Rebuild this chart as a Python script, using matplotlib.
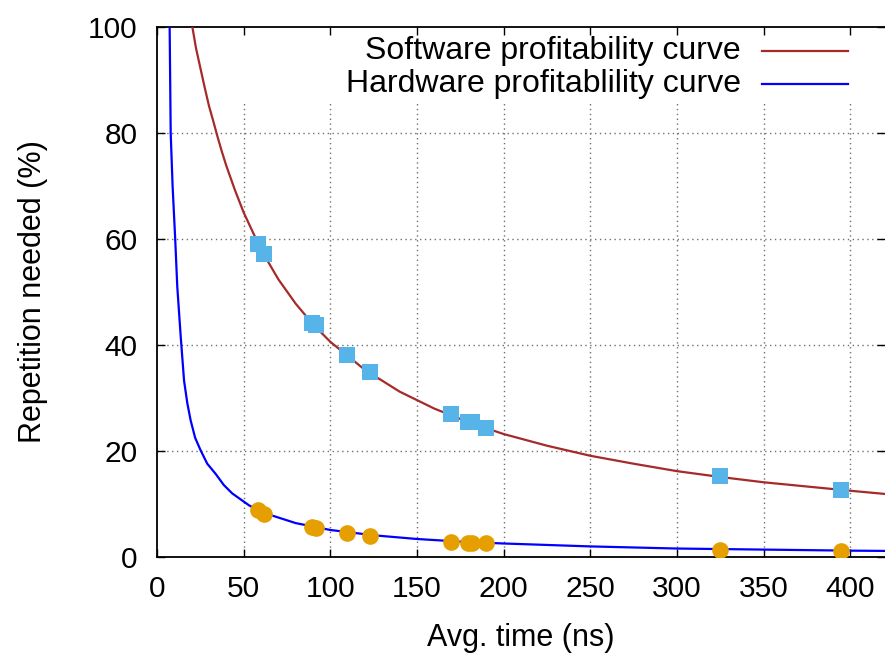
import matplotlib
matplotlib.use("Agg")
import matplotlib.pyplot as plt
from matplotlib.lines import Line2D

plt.rcParams['font.family'] = ['Liberation Sans', 'DejaVu Sans']

# profitability curves
sw_x = [20.4, 22.5, 25, 27.5, 30, 32.5, 35, 37.5, 40, 45, 50, 55, 60, 70, 80, 90,
        100, 120, 140, 160, 180, 200, 225, 250, 275, 300, 325, 350, 375, 400, 420]
sw_y = [100, 96.0, 92.3, 88.6, 85.1, 82.2, 79.2, 76.4, 73.8, 69.2, 65.0, 61.5,
        58.0, 52.4, 47.8, 43.9, 40.6, 35.3, 31.2, 28.0, 25.4, 23.2, 21.0, 19.1,
        17.6, 16.2, 15.1, 14.1, 13.3, 12.5, 11.9]

hw_x = [7.3, 7.9, 9.0, 10.5, 11.7, 13.7, 15.6, 17.5, 19.4, 22.0, 25.2, 29.0,
        33.8, 38.5, 43.4, 53.1, 60, 80, 100, 125, 150, 175, 200, 250, 300, 350,
        400, 420]
hw_y = [100, 80, 70, 60, 51, 41.5, 33.3, 29.0, 25.8, 22.5, 20.1, 17.6,
        15.7, 13.6, 12.0, 9.75, 8.5, 6.4, 5.1, 4.1, 3.4, 2.9, 2.55, 2.0, 1.6, 1.4,
        1.2, 1.15]

# measured points
pt_x = [58.4, 61.9, 89.6, 91.9, 109.7, 122.6, 169.7, 179.5, 181.5, 190.0, 324.9, 394.6]
sw_pts = [59.1, 57.2, 44.2, 43.7, 38.2, 35.0, 26.9, 25.5, 25.4, 24.4, 15.2, 12.7]
hw_pts = [8.8, 8.2, 5.7, 5.4, 4.5, 4.0, 2.8, 2.7, 2.7, 2.6, 1.4, 1.1]

xticks = [0, 50, 100, 150, 200, 250, 300, 350, 400]
yticks = [0, 20, 40, 60, 80, 100]

fig = plt.figure(figsize=(8.85, 6.55), dpi=100)
ax = fig.add_axes([0.1774, 0.1496, 0.8226, 0.8092])

# grid (vertical lines stop under the key, like gnuplot)
grid_kw = dict(color='#707070', lw=1.0, linestyle=(0, (1, 2.5)), zorder=1)
ax.vlines(xticks[1:], 0, 86, **grid_kw)
ax.hlines(yticks[1:-1], 0, 420, **grid_kw)

ax.plot(sw_x, sw_y, color='#a52a2a', lw=1.6, zorder=3)
ax.plot(hw_x, hw_y, color='#0000ff', lw=1.6, zorder=3)
ax.plot(pt_x, sw_pts, 's', color='#56b4e9', ms=12, mew=0, zorder=4)
ax.plot(pt_x, hw_pts, 'o', color='#e69f00', ms=12, mew=0, zorder=4)

ax.set_xlim(0, 420)
ax.set_ylim(0, 100)
ax.set_xticks(xticks)
ax.set_yticks(yticks)
ax.tick_params(direction='in', length=6, width=1, labelsize=21.5,
               top=True, right=True)
ax.tick_params(axis='x', pad=13)
ax.tick_params(axis='y', pad=14)
ax.spines['right'].set_visible(False)
for s in ['left', 'bottom', 'top']:
    ax.spines[s].set_linewidth(1.3)

ax.set_xlabel('Avg. time (ns)', fontsize=22, labelpad=14)
ax.set_ylabel('Repetition needed (%)', fontsize=22, labelpad=29)

# key
labels = ['Software profitability curve', 'Hardware profitablility curve']
colors = ['#a52a2a', '#0000ff']
for i, (lab, c) in enumerate(zip(labels, colors)):
    yk = 0.955 - i * 0.062
    ax.text(0.802, yk, lab, transform=ax.transAxes, ha='right', va='center',
            fontsize=23)
    ax.add_line(Line2D([0.831, 0.949], [yk, yk], transform=ax.transAxes,
                       color=c, lw=1.6))

fig.savefig('out.png', dpi=100)
